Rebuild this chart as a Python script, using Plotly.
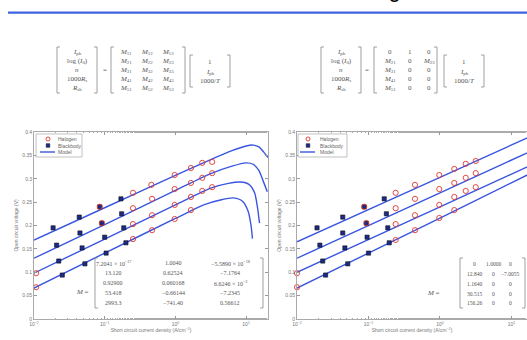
import plotly.graph_objects as go

W, H = 527, 340
def X(px): return px / W
def Y(py): return 1 - py / H

# ---------------- data (log10 J, V) ----------------
# Left panel: model curves
L_model_x = [
    [-2.0, -1.0, 0.0, 0.5, 0.8, 1.0, 1.1, 1.18, 1.25, 1.31],
    [-2.0, -1.0, 0.0, 0.5, 0.8, 1.0, 1.1, 1.18, 1.24, 1.30],
    [-2.0, -1.0, 0.0, 0.5, 0.75, 0.92, 1.04, 1.12, 1.16, 1.19],
    [-2.0, -1.0, 0.0, 0.4, 0.65, 0.82, 0.95, 1.03, 1.07, 1.09],
]
L_model_v = [
    [0.169, 0.238, 0.307, 0.341, 0.360, 0.370, 0.372, 0.368, 0.357, 0.345],
    [0.130, 0.202, 0.275, 0.311, 0.327, 0.334, 0.331, 0.318, 0.296, 0.272],
    [0.098, 0.171, 0.244, 0.280, 0.290, 0.293, 0.288, 0.270, 0.240, 0.205],
    [0.066, 0.141, 0.215, 0.244, 0.255, 0.259, 0.252, 0.230, 0.200, 0.172],
]
L_bb_x = [
    [-1.73, -1.36, -1.07, -0.77],
    [-1.68, -1.35, -1.04, -0.76],
    [-1.65, -1.32, -1.00, -0.73],
    [-1.60, -1.28, -0.98, -0.70],
]
L_bb_v = [
    [0.195, 0.218, 0.240, 0.257],
    [0.158, 0.184, 0.205, 0.225],
    [0.124, 0.152, 0.175, 0.195],
    [0.094, 0.118, 0.141, 0.163],
]
L_hal_x = [
    [-1.07, -0.60, -0.34, -0.01, 0.22, 0.38, 0.52],
    [-1.04, -0.60, -0.33, -0.01, 0.22, 0.38, 0.52],
    [-1.97, -0.60, -0.33, -0.01, 0.22, 0.38, 0.52],
    [-1.97, -0.60, -0.33, -0.01, 0.22],
]
L_hal_v = [
    [0.240, 0.270, 0.287, 0.308, 0.323, 0.334, 0.336],
    [0.205, 0.237, 0.257, 0.278, 0.291, 0.302, 0.312],
    [0.098, 0.203, 0.222, 0.244, 0.261, 0.274, 0.282],
    [0.068, 0.171, 0.190, 0.214, 0.233],
]

# Right panel
R_model_x = [[-2.0, 0.0, 1.3]] * 4
R_model_v = [
    [0.165, 0.303, 0.393],
    [0.130, 0.270, 0.361],
    [0.100, 0.240, 0.331],
    [0.066, 0.216, 0.314],
]
R_bb_x = [
    [-1.72, -1.36, -1.06, -0.78],
    [-1.68, -1.36, -1.03, -0.75],
    [-1.64, -1.33, -1.02, -0.73],
    [-1.60, -1.29, -1.00, -0.71],
]
R_bb_v = L_bb_v
R_hal_x = [
    [-1.06, -0.62, -0.35, -0.01, 0.20, 0.36, 0.50],
    [-1.03, -0.62, -0.35, -0.01, 0.20, 0.36, 0.50],
    [-2.0, -0.62, -0.35, -0.01, 0.20, 0.36, 0.50],
    [-2.0, -0.62, -0.35, -0.01, 0.20],
]
R_hal_v = [
    [0.240, 0.270, 0.287, 0.308, 0.321, 0.332, 0.338],
    [0.205, 0.237, 0.257, 0.278, 0.291, 0.302, 0.312],
    [0.098, 0.203, 0.222, 0.244, 0.261, 0.274, 0.282],
    [0.068, 0.169, 0.190, 0.216, 0.233],
]

x_tickvals = [0.01, 0.1, 1, 10]
x_ticktext = ['10<sup>−2</sup>', '10<sup>−1</sup>', '10<sup>0</sup>', '10<sup>1</sup>']
y_tickvals = [0, 0.05, 0.1, 0.15, 0.2, 0.25, 0.3, 0.35, 0.4]
y_ticktext = ['0', '0.05', '0.1', '0.15', '0.2', '0.25', '0.3', '0.35', '0.4']

M_left = [
    ['7.2041 × 10<sup>−17</sup>', '1.0040', '−5.5890 × 10<sup>−18</sup>'],
    ['13.120', '0.62524', '−7.1764'],
    ['0.92900', '0.060168', '6.6246 × 10<sup>−3</sup>'],
    ['53.418', '−0.66144', '−7.2345'],
    ['2993.3', '−741.40', '0.56612'],
]
M_right = [
    ['0', '1.0000', '0'],
    ['12.840', '0', '−7.0055'],
    ['1.1640', '0', '0'],
    ['30.515', '0', '0'],
    ['156.26', '0', '0'],
]

vec_out = ['<i>I</i><sub>ph</sub>', 'log (<i>I</i><sub>0</sub>)', '<i>n</i>',
           '1000<i>R</i><sub>s</sub>', '<i>R</i><sub>sh</sub>']
vec_in = ['1', '<i>I</i><sub>ph</sub>', '1000/<i>T</i>']
M_sym_left = [['<i>M</i><sub>%d%d</sub>' % (r, c) for c in (1, 2, 3)] for r in (1, 2, 3, 4, 5)]
M_sym_right = [
    ['0', '1', '0'],
    ['<i>M</i><sub>21</sub>', '0', '<i>M</i><sub>23</sub>'],
    ['<i>M</i><sub>31</sub>', '0', '0'],
    ['<i>M</i><sub>41</sub>', '0', '0'],
    ['<i>M</i><sub>51</sub>', '0', '0'],
]

RED = '#e0352b'
NAVY = '#1c2a8a'
BLUE = '#3a56e0'
TXT = '#555555'
SERIF = 'Liberation Serif'

fig = go.Figure()

def add_panel(xa, ya, mx, mv, bx, bv, hx, hv):
    for xs, vs in zip(mx, mv):
        fig.add_trace(go.Scatter(x=[10 ** v for v in xs], y=vs, mode='lines',
                                 line=dict(color=BLUE, width=1.4, shape='spline', smoothing=0.7),
                                 xaxis=xa, yaxis=ya, showlegend=False, hoverinfo='skip'))
    for xs, vs in zip(bx, bv):
        fig.add_trace(go.Scatter(x=[10 ** v for v in xs], y=vs, mode='markers',
                                 marker=dict(symbol='square', size=4.2, color=NAVY,
                                             line=dict(color='#111', width=0.6)),
                                 xaxis=xa, yaxis=ya, showlegend=False, cliponaxis=False))
    for xs, vs in zip(hx, hv):
        fig.add_trace(go.Scatter(x=[10 ** v for v in xs], y=vs, mode='markers',
                                 marker=dict(symbol='circle-open', size=5.2, color=RED,
                                             line=dict(color=RED, width=0.9)),
                                 xaxis=xa, yaxis=ya, showlegend=False, cliponaxis=False))

add_panel('x', 'y', L_model_x, L_model_v, L_bb_x, L_bb_v, L_hal_x, L_hal_v)
add_panel('x2', 'y2', R_model_x, R_model_v, R_bb_x, R_bb_v, R_hal_x, R_hal_v)

axis_common = dict(showgrid=False, zeroline=False, ticks='inside', ticklen=3,
                   tickcolor='#999', tickwidth=0.6, showline=True, linecolor='#aaa',
                   linewidth=0.8, tickfont=dict(size=5, color='#777', family='Liberation Sans'),
                   automargin=False)
xcommon = dict(type='log', tickvals=x_tickvals, ticktext=x_ticktext,
               minor=dict(ticks='inside', ticklen=1.5, tickcolor='#aaa', tickwidth=0.5, showgrid=False),
               title=dict(text='Short circuit current density (A/cm<sup>−2</sup>)',
                          font=dict(size=5, color='#777', family='Liberation Sans'), standoff=2))
ycommon = dict(range=[0, 0.4], tickvals=y_tickvals, ticktext=y_ticktext,
               title=dict(text='Open circuit voltage (V)',
                          font=dict(size=5, color='#777', family='Liberation Sans'), standoff=3))

fig.update_layout(
    width=W, height=H, autosize=False,
    margin=dict(l=0, r=0, t=0, b=0),
    paper_bgcolor='white', plot_bgcolor='white', showlegend=False,
    xaxis=dict(domain=[X(34), X(268)], range=[-2, 1.31], anchor='y', mirror='ticks',
               **axis_common, **xcommon),
    yaxis=dict(domain=[Y(319), Y(132)], anchor='x', mirror='ticks', **axis_common, **ycommon),
    xaxis2=dict(domain=[X(297), 1.0], range=[-2, 1.217], anchor='y2', mirror='ticks',
                **axis_common, **xcommon),
    yaxis2=dict(domain=[Y(319), Y(132)], anchor='x2', mirror=False, **axis_common, **ycommon),
)

shapes = []
anns = []

def ann(px, py, text, size=7, xanchor='center', color=TXT, family=SERIF):
    anns.append(dict(x=X(px), y=Y(py), xref='paper', yref='paper', text=text,
                     showarrow=False, xanchor=xanchor, yanchor='middle',
                     font=dict(size=size, color=color, family=family)))

def brackets(x0, x1, y0, y1, s=3, color='#888', w=0.8):
    p1 = 'M %f,%f L %f,%f L %f,%f L %f,%f' % (X(x0 + s), Y(y0), X(x0), Y(y0), X(x0), Y(y1), X(x0 + s), Y(y1))
    p2 = 'M %f,%f L %f,%f L %f,%f L %f,%f' % (X(x1 - s), Y(y0), X(x1), Y(y0), X(x1), Y(y1), X(x1 - s), Y(y1))
    for p in (p1, p2):
        shapes.append(dict(type='path', path=p, xref='paper', yref='paper',
                           line=dict(color=color, width=w)))

# header line
shapes.append(dict(type='line', xref='paper', yref='paper', x0=X(8), x1=1.0,
                   y0=Y(12.7), y1=Y(12.7), line=dict(color='#3f62e0', width=2.2)))
anns.append(dict(x=X(403), y=Y(4), xref='paper', yref='paper', text='Model fitting',
                 showarrow=False, xanchor='right', yanchor='bottom',
                 font=dict(size=22, color='black', family='Liberation Sans')))

rows5 = [52, 61, 70, 79, 88]
rows3 = [62, 71.5, 81]

def equation(vx0, vx1, eqx, mx0, mx1, mcols, wx0, wx1, msym):
    brackets(vx0, vx1, 47, 93)
    for r, t in zip(rows5, vec_out):
        ann((vx0 + vx1) / 2, r, t)
    ann(eqx, 70, '=')
    brackets(mx0, mx1, 47, 93)
    for r, row in zip(rows5, msym):
        for c, t in zip(mcols, row):
            ann(c, r, t)
    brackets(wx0, wx1, 55, 87)
    for r, t in zip(rows3, vec_in):
        ann((wx0 + wx1) / 2, r, t)

equation(57, 97, 105, 111, 185, [126, 147, 168], 190, 230, M_sym_left)
equation(321, 361, 367, 374, 437, [390, 410, 429], 444, 484, M_sym_right)

# inner matrices
mrows = [263, 273, 283, 293, 303]
ann(82, 292, '<i>M</i> =', size=7)
brackets(95, 263, 258, 308, s=3)
for r, row in zip(mrows, M_left):
    for c, t in zip([113, 173, 230], row):
        ann(c, r, t, size=6)
ann(433, 293, '<i>M</i> =', size=7)
brackets(460, 525, 258, 308, s=3)
for r, row in zip([264, 274, 284, 294, 303], M_right):
    for c, t in zip([474, 493, 510], row):
        ann(c, r, t, size=5.5)

# legends (drawn as decoration)
def legend(bx0, bx1, sx, tx):
    shapes.append(dict(type='rect', xref='paper', yref='paper', x0=X(bx0), x1=X(bx1),
                       y0=Y(157), y1=Y(134), fillcolor='white', line=dict(color='#999', width=0.6)))
    shapes.append(dict(type='circle', xref='paper', yref='paper', x0=X(sx - 2), x1=X(sx + 2),
                       y0=Y(141), y1=Y(137), line=dict(color=RED, width=0.9)))
    shapes.append(dict(type='rect', xref='paper', yref='paper', x0=X(sx - 1.8), x1=X(sx + 1.8),
                       y0=Y(147.3), y1=Y(143.7), fillcolor=NAVY, line=dict(color='#111', width=0.5)))
    shapes.append(dict(type='line', xref='paper', yref='paper', x0=X(sx - 8), x1=X(sx + 7),
                       y0=Y(152), y1=Y(152), line=dict(color=BLUE, width=1.4)))
    for r, t in zip([139, 145.5, 152], ['Halogen', 'Blackbody', 'Model']):
        ann(tx, r, t, size=5, xanchor='left', color='#666', family='Liberation Sans')

legend(36, 82, 48, 56)
legend(298, 347, 308, 318)

fig.update_layout(shapes=shapes, annotations=anns)
fig.write_html('out.html', config={'displayModeBar': False},
               post_script="document.body.style.margin='0';document.body.style.overflow='hidden';")
